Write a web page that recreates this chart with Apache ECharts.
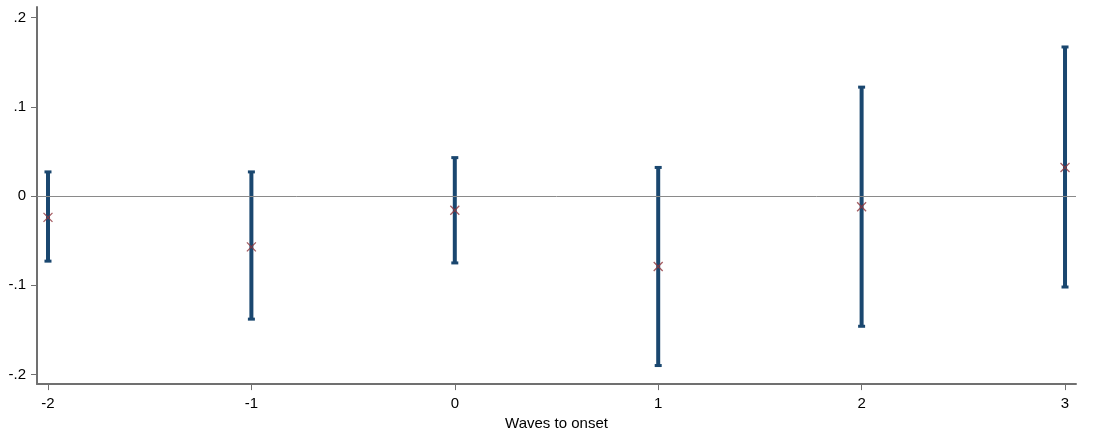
<!DOCTYPE html>
<html>
<head>
<meta charset="utf-8">
<script src="https://cdn.jsdelivr.net/npm/echarts@6/dist/echarts.min.js"></script>
<style>html,body{margin:0;padding:0;background:#fff;overflow:hidden;}#c{width:1099px;height:436px;}</style>
</head>
<body>
<div id="c"></div>
<script>
var waves = [-2, -1, 0, 1, 2, 3];
var estimate = [-0.024, -0.057, -0.016, -0.079, -0.012, 0.032];
var upper = [0.027, 0.027, 0.043, 0.032, 0.122, 0.167];
var lower = [-0.073, -0.138, -0.075, -0.190, -0.146, -0.102];
var xTicks = [-2, -1, 0, 1, 2, 3];
var yTicks = [-0.2, -0.1, 0, 0.1, 0.2];
var yTickLabels = ['-.2', '-.1', '0', '.1', '.2'];

var ciData = waves.map(function (w, i) { return [w, lower[i], upper[i]]; });
var ptData = waves.map(function (w, i) { return [w, estimate[i]]; });

var chart = echarts.init(document.getElementById('c'), null, {renderer: 'canvas', width: 1099, height: 436});
var font = 'Liberation Sans, Arial, sans-serif';
chart.setOption({
  animation: false,
  backgroundColor: '#ffffff',
  grid: {left: 37, width: 1039, top: 7, height: 384, containLabel: false},
  xAxis: {
    type: 'value', min: -2.054, max: 3.054,
    name: 'Waves to onset', nameLocation: 'middle', nameGap: 25,
    nameTextStyle: {fontFamily: font, fontSize: 15, color: '#000'},
    axisLine: {show: true, onZero: false, lineStyle: {color: '#707070', width: 2}},
    axisTick: {show: true, length: 6, lineStyle: {color: '#707070', width: 1}, customValues: xTicks},
    axisLabel: {fontFamily: font, fontSize: 15, color: '#000', margin: 12, customValues: xTicks,
      formatter: function (v) { return String(v); }},
    splitLine: {show: false}
  },
  yAxis: {
    type: 'value', min: -0.2108, max: 0.2118,
    axisLine: {show: true, onZero: false, lineStyle: {color: '#707070', width: 2}},
    axisTick: {show: true, length: 6, lineStyle: {color: '#707070', width: 1}, customValues: yTicks},
    axisLabel: {fontFamily: font, fontSize: 15, color: '#000', margin: 11, customValues: yTicks,
      formatter: function (v) {
        for (var i = 0; i < yTicks.length; i++) { if (Math.abs(v - yTicks[i]) < 1e-9) return yTickLabels[i]; }
        return '';
      }},
    splitLine: {show: false}
  },
  series: [
    {
      type: 'custom',
      data: ciData,
      z: 3,
      markLine: {
        silent: true, symbol: 'none', label: {show: false},
        lineStyle: {color: '#8a8a8a', width: 1, type: 'solid'},
        data: [{yAxis: 0}]
      },
      renderItem: function (params, api) {
        var x = api.value(0);
        var lo = api.coord([x, api.value(1)]);
        var hi = api.coord([x, api.value(2)]);
        var cx = lo[0];
        var style = {fill: '#1a476f'};
        return {
          type: 'group',
          children: [
            {type: 'rect', shape: {x: cx - 2, y: hi[1], width: 4, height: lo[1] - hi[1]}, style: style},
            {type: 'rect', shape: {x: cx - 3.5, y: hi[1] - 1.5, width: 7, height: 3}, style: style},
            {type: 'rect', shape: {x: cx - 3.5, y: lo[1] - 1.5, width: 7, height: 3}, style: style}
          ]
        };
      }
    },
    {
      type: 'scatter',
      data: ptData,
      z: 4,
      symbol: 'path://M0,0L10,10M10,0L0,10',
      symbolSize: 9,
      itemStyle: {color: 'none', borderColor: '#90353b', borderWidth: 1.3}
    }
  ]
});
</script>
</body>
</html>
